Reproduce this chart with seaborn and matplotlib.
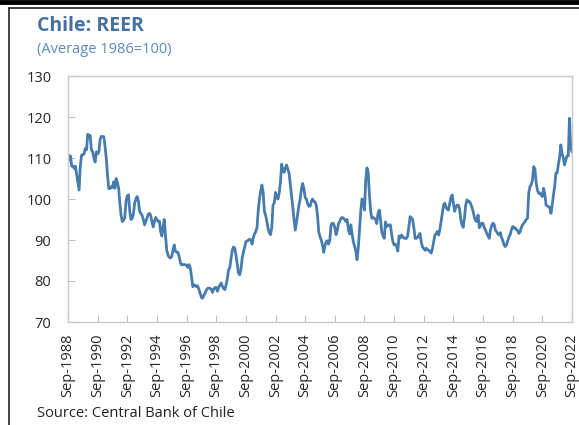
import numpy as np
import pandas as pd
import matplotlib
matplotlib.use("Agg")
import matplotlib.pyplot as plt
import matplotlib.dates as mdates
from matplotlib.lines import Line2D
import seaborn as sns

# monthly REER (Average 1986=100), Sep-1988 .. Sep-2022
reer_1988 = [111, 109.5, 110.5, 108]
reer_1989 = [108, 107.5, 108, 106, 104, 102.2, 108, 110.7, 110.8, 111, 112.3, 112]
reer_1990 = [115.8, 115, 115.5, 112, 111.5, 110, 109, 111.5, 111, 111.5, 114.5, 115.3]
reer_1991 = [115.2, 115.2, 113, 110, 106, 102.6, 102.5, 103, 102.8, 104.2, 102.6, 105]
reer_1992 = [104, 102.6, 99, 96, 94.5, 94.8, 95.5, 99.5, 100.8, 101, 97, 95]
reer_1993 = [95.3, 96.5, 99, 100, 100.6, 99.5, 97, 96.5, 96, 95, 93.7, 94.5]
reer_1994 = [95.4, 96.3, 96.5, 96, 94.5, 93.2, 94.5, 95.5, 95, 94.5, 94.6, 92]
reer_1995 = [91, 93.5, 95, 91, 87.5, 86.3, 85.8, 85.6, 86, 87.5, 88.8, 87.3]
reer_1996 = [87, 87, 86, 84.5, 83.9, 84, 84, 84, 83.8, 83.3, 84, 83.2]
reer_1997 = [81, 78.6, 79, 79, 78.6, 78.8, 78, 77, 76, 75.8, 76.5, 77]
reer_1998 = [77.8, 78.2, 78.3, 78.2, 78, 77.2, 78, 78.4, 78.4, 77.5, 78.5, 79]
reer_1999 = [79.5, 78.7, 78.2, 77.9, 79, 80.5, 82.7, 83.2, 85.5, 87.5, 88.3, 88]
reer_2000 = [86.3, 84, 82, 81.5, 82.7, 85.5, 87, 88.2, 89.6, 89.7, 90, 90.2]
reer_2001 = [90, 89, 90.5, 91.5, 92, 93, 97, 100, 102, 103.4, 101.5, 97]
reer_2002 = [96, 94.5, 92.8, 91.8, 91.3, 93, 98.5, 99, 101.6, 100.3, 100, 101.5]
reer_2003 = [104.2, 108.5, 107, 106.5, 107.5, 108.3, 107.3, 106.3, 103.5, 101, 98, 95]
reer_2004 = [92.4, 94.5, 96.5, 98.5, 100, 102.5, 103.8, 102.5, 100.3, 100, 98.8, 98.2]
reer_2005 = [98.3, 99.5, 100, 99.4, 99.3, 98.5, 96, 92, 90.8, 90, 88.8, 87]
reer_2006 = [88.5, 89.6, 89.8, 89, 90, 93.7, 94.1, 94, 93, 91.3, 92.3, 94]
reer_2007 = [94.5, 95.3, 95.5, 95.3, 95, 94.5, 95, 92.5, 91.5, 93.7, 91.5, 89.6]
reer_2008 = [88.5, 87.2, 85.2, 88, 92.5, 97, 100, 99.5, 97.3, 104.5, 107.6, 106.5]
reer_2009 = [101, 97, 95.3, 95.5, 95.3, 95, 94, 96.5, 97.3, 95, 92, 91]
reer_2010 = [90.4, 94.4, 93.3, 93.5, 93.7, 93.7, 91.5, 89.6, 88.8, 89, 88.5, 87.3]
reer_2011 = [91, 90.5, 91.2, 90.8, 90.5, 90.4, 90.4, 91, 93.5, 95.7, 95.4, 95]
reer_2012 = [93, 90.4, 90.4, 90.6, 91.2, 91.6, 89.5, 88.3, 87.9, 87.5, 88, 87.6]
reer_2013 = [87.5, 87.2, 86.8, 87.8, 89.5, 91.2, 91.5, 92.1, 91.2, 92.5, 94.5, 96.5]
reer_2014 = [98.5, 99, 98, 97.5, 97.3, 98.8, 100.3, 101, 99, 97, 98, 98.5]
reer_2015 = [98.5, 97.5, 95, 93.7, 93.1, 95.5, 98.5, 99.8, 99.4, 99.4, 98.8, 98]
reer_2016 = [96.9, 95.5, 94.7, 94.5, 96.1, 93, 93.5, 94.1, 94, 93, 92.4, 91.6]
reer_2017 = [91, 90.4, 92.4, 93.5, 94.1, 93.8, 92.4, 92, 91.5, 91.2, 91.8, 90.6]
reer_2018 = [89.8, 88.8, 88.4, 88.8, 89.8, 90.8, 91.3, 92.5, 93.3, 92.9, 93, 92.5]
reer_2019 = [92.3, 91.6, 92, 93, 93.7, 94.1, 94.5, 95, 95.3, 101.5, 103, 103.5]
reer_2020 = [104.6, 107.9, 107.3, 104, 102.2, 101.4, 101.5, 101, 100.6, 102.6, 101.2, 98.5]
reer_2021 = [98.3, 98.1, 98, 96.5, 98.5, 101, 103, 106.3, 106.4, 108.5, 110.3, 113.2]
reer_2022 = [111, 110, 108.3, 109.5, 110.5, 110.5, 119.7, 112.5, 111.5]

yearly = [reer_1988, reer_1989, reer_1990, reer_1991, reer_1992, reer_1993,
          reer_1994, reer_1995, reer_1996, reer_1997, reer_1998, reer_1999,
          reer_2000, reer_2001, reer_2002, reer_2003, reer_2004, reer_2005,
          reer_2006, reer_2007, reer_2008, reer_2009, reer_2010, reer_2011,
          reer_2012, reer_2013, reer_2014, reer_2015, reer_2016, reer_2017,
          reer_2018, reer_2019, reer_2020, reer_2021, reer_2022]
values = [v for year in yearly for v in year]
dates = pd.date_range("1988-09-01", "2022-09-01", freq="MS")
df = pd.DataFrame({"date": dates, "reer": values})

sns.set_style("white")
plt.rcParams["font.family"] = ["Open Sans", "DejaVu Sans"]

fig = plt.figure(figsize=(5.79, 4.25), dpi=100)
ax = fig.add_axes([68 / 579, 1 - 322 / 425, 504 / 579, 246 / 425])

sns.lineplot(data=df, x="date", y="reer", ax=ax, color="#477cae", linewidth=2.0)

ax.set_xlim(pd.Timestamp("1988-09-01"), pd.Timestamp("2022-09-01"))
ax.set_ylim(70, 130)
ax.set_yticks(range(70, 131, 10))
ax.xaxis.set_major_locator(mdates.YearLocator(base=2, month=9, day=1))
ax.xaxis.set_major_formatter(mdates.DateFormatter("%b-%Y"))
ax.set_xlabel("")
ax.set_ylabel("")

ax.tick_params(axis="y", direction="in", length=5, color="#bfbfbf",
               labelsize=10.5, pad=12, left=True)
ax.tick_params(axis="x", direction="in", length=5, color="#bfbfbf",
               labelsize=10.5, pad=8, labelrotation=90, bottom=True)
for side in ["left", "right", "top", "bottom"]:
    ax.spines[side].set_color("#c8c8c8")
    ax.spines[side].set_linewidth(1)

fig.text(37 / 579, 1 - 16 / 425, "Chile: REER", fontsize=14, fontweight="bold",
         color="#44719f", va="top", ha="left")
fig.text(37 / 579, 1 - 42 / 425, "(Average 1986=100)", fontsize=10.5,
         color="#5b89bd", va="top", ha="left")
fig.text(37 / 579, 1 - 406 / 425, "Source: Central Bank of Chile", fontsize=10.5,
         color="#222222", va="top", ha="left")

# outer frame of the chart panel
fig.add_artist(Line2D([0, 1], [1 - 2 / 425, 1 - 2 / 425], transform=fig.transFigure,
                      color="black", linewidth=3.5))
fig.add_artist(Line2D([9 / 579, 1], [1 - 8 / 425, 1 - 8 / 425], transform=fig.transFigure,
                      color="#222222", linewidth=1.2))
fig.add_artist(Line2D([9 / 579, 9 / 579], [0, 1 - 8 / 425], transform=fig.transFigure,
                      color="#222222", linewidth=1.2))

fig.savefig("out.png", dpi=100)
